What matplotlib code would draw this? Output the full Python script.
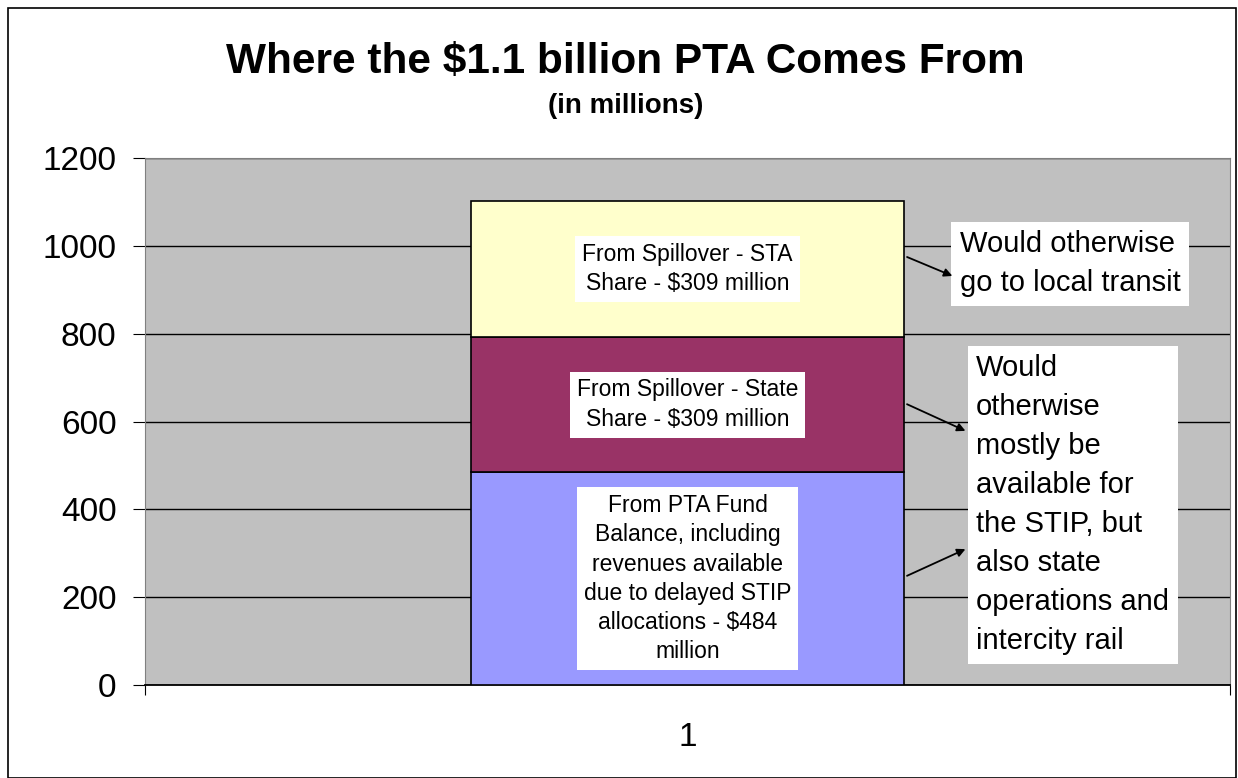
import matplotlib.pyplot as plt
from matplotlib.patches import Rectangle

plt.rcParams['font.family'] = ['Liberation Sans', 'DejaVu Sans']

category = [1]
segments = ["From PTA Fund\nBalance, including\nrevenues available\ndue to delayed STIP\nallocations - $484\nmillion",
            "From Spillover - State\nShare - $309 million",
            "From Spillover - STA\nShare - $309 million"]
values = [484, 309, 309]
colors = ["#9999FF", "#993366", "#FFFFCC"]
yticks = [0, 200, 400, 600, 800, 1000, 1200]

fig = plt.figure(figsize=(12.38, 7.78), dpi=100)
ax = fig.add_axes([145 / 1238, 1 - 685 / 778, 1085 / 1238, 527 / 778])
ax.set_facecolor("#C0C0C0")

bottom = 0
mids = []
for v, c in zip(values, colors):
    ax.bar(category, [v], bottom=bottom, width=0.4, color=c, edgecolor="black", linewidth=1.2, zorder=3)
    mids.append(bottom + v / 2)
    bottom += v

for txt, m in zip(segments, mids):
    ax.text(1, m, txt, ha="center", va="center", fontsize=16.5, linespacing=1.35, zorder=5,
            bbox=dict(facecolor="white", edgecolor="none", pad=5))

# side notes
ax.text(1.251, 959, "Would otherwise\ngo to local transit", ha="left", va="center", fontsize=21,
        linespacing=1.5, zorder=5, bbox=dict(facecolor="white", edgecolor="none", pad=6))
ax.text(1.266, 410, "Would\notherwise\nmostly be\navailable for\nthe STIP, but\nalso state\noperations and\nintercity rail",
        ha="left", va="center", fontsize=21, linespacing=1.5, zorder=5,
        bbox=dict(facecolor="white", edgecolor="none", pad=6))

arr = dict(arrowstyle="-|>", color="black", lw=1.3, mutation_scale=12)
ax.annotate("", xy=(1.2465, 929), xytext=(1.2, 977), arrowprops=arr, zorder=6)
ax.annotate("", xy=(1.2585, 576), xytext=(1.2, 642), arrowprops=arr, zorder=6)
ax.annotate("", xy=(1.2585, 312), xytext=(1.2, 246), arrowprops=arr, zorder=6)

ax.set_xlim(0.5, 1.5)
ax.set_ylim(0, 1200)
ax.set_yticks(yticks)
ax.yaxis.grid(True, color="black", linewidth=1)
ax.set_axisbelow(True)
ax.tick_params(axis="y", labelsize=24, length=8.5, pad=12, direction="out")
ax.set_xticks([0.5, 1.5])
ax.set_xticklabels(["", ""])
ax.set_xticks(category, minor=True)
ax.set_xticklabels(["1"], minor=True)
ax.tick_params(axis="x", which="major", length=7, direction="out")
ax.tick_params(axis="x", which="minor", length=0, labelsize=24, pad=27)
for s in ["left", "right", "top"]:
    ax.spines[s].set_color("#808080")
ax.spines["bottom"].set_color("black")
ax.spines["bottom"].set_linewidth(1.3)

fig.text(0.505, 1 - 62 / 778, "Where the $1.1 billion PTA Comes From", ha="center", va="center",
         fontsize=30.5, fontweight="bold")
fig.text(0.505, 1 - 106 / 778, "(in millions)", ha="center", va="center", fontsize=20, fontweight="bold")

fig.patches.append(Rectangle((8 / 1238, 0), 1228 / 1238, 1 - 8 / 778, transform=fig.transFigure,
                             fill=False, edgecolor="black", linewidth=1.2))

fig.savefig("out.png", dpi=100)
